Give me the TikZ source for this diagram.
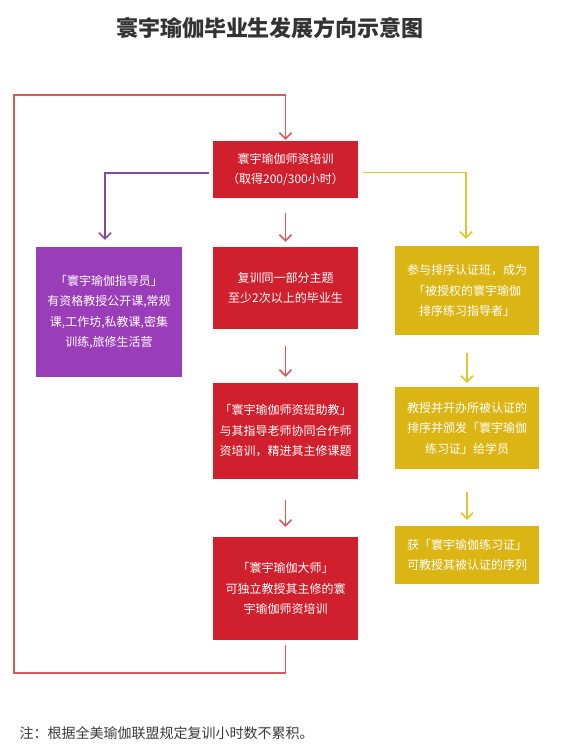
\documentclass[tikz,border=0pt]{standalone}
\usepackage{fontspec}
\setmainfont{Noto Sans CJK SC}
\usetikzlibrary{arrows.meta}
\definecolor{boxred}{HTML}{D0202E}
\definecolor{boxpurple}{HTML}{9A3DB8}
\definecolor{boxyellow}{HTML}{DBB513}
\definecolor{linered}{HTML}{D8585C}
\definecolor{linepurple}{HTML}{7D4CA3}
\definecolor{lineyellow}{HTML}{DCC72E}
\definecolor{titlegray}{HTML}{333333}
\definecolor{notegray}{HTML}{3A3A3A}
\begin{document}
\begin{tikzpicture}[x=1pt,y=-1pt,
  box/.style={draw=none, minimum width=145pt, inner sep=0pt, align=center, text=white, font=\fontsize{12}{20.5}\selectfont},
  redbox/.style={box, fill=boxred},
  purplebox/.style={box, fill=boxpurple},
  yellowbox/.style={box, fill=boxyellow, minimum width=144pt},
  conn/.style={line width=1.5pt, -{Straight Barb[length=6pt,width=12pt,line width=1.5pt]}},
  redline/.style={conn, draw=linered},
  purpleline/.style={conn, draw=linepurple},
  yellowline/.style={conn, draw=lineyellow}]
\fill[white] (0,0) rectangle (580,756);
\useasboundingbox (0,0) rectangle (580,756);

\node[font=\fontsize{22}{22}\selectfont\bfseries, text=titlegray] (title) at (270,28) {寰宇瑜伽毕业生发展方向示意图};

\node[redbox, minimum height=57pt] (a) at (285.5,169.5) {寰宇瑜伽师资培训\\（取得200/300小时）};
\node[purplebox, minimum width=146pt, minimum height=130pt] (p) at (109,312) {「寰宇瑜伽指导员」\\有资格教授公开课,常规\\课,工作坊,私教课,密集\\训练,旅修生活营};
\node[redbox, minimum height=82pt] (b) at (285.5,288) {复训同一部分主题\\至少2次以上的毕业生};
\node[redbox, minimum height=96pt] (c) at (285.5,431) {「寰宇瑜伽师资班助教」\\与其指导老师协同合作师\\资培训，精进其主修课题};
\node[redbox, minimum height=103pt] (d) at (285.5,588.5) {「寰宇瑜伽大师」\\可独立教授其主修的寰\\宇瑜伽师资培训};
\node[yellowbox, minimum height=89pt] (y1) at (467,290.5) {参与排序认证班，成为\\「被授权的寰宇瑜伽\\排序练习指导者」};
\node[yellowbox, minimum height=82pt] (y2) at (467,428) {教授并开办所被认证的\\排序并颁发「寰宇瑜伽\\练习证」给学员};
\node[yellowbox, minimum height=58pt] (y3) at (467,555) {获「寰宇瑜伽练习证」\\可教授其被认证的序列};

\node[anchor=west, font=\fontsize{14}{14}\selectfont, text=notegray] (note) at (16,733) {注：根据全美瑜伽联盟规定复训小时数不累积。};

\coordinate (l1) at (285.5,673);
\coordinate (l2) at (14,673);
\coordinate (l3) at (14,95);
\coordinate (l4) at (285.5,95);

\draw[redline] ([yshift=-5pt]d.south) -- (l1) -- (l2) -- (l3) -- (l4) -- ([yshift=1pt]a.north);
\draw[redline] ([yshift=-15pt]a.south) -- ([yshift=5pt]b.north);
\draw[redline] ([yshift=-17pt]b.south) -- ([yshift=6pt]c.north);
\draw[redline] ([yshift=-21pt]c.south) -- ([yshift=10pt]d.north);
\draw[purpleline] ([xshift=-4pt,yshift=-3.5pt]a.west) -| ([xshift=-4pt,yshift=7pt]p.north);
\draw[yellowline] ([xshift=5pt,yshift=-3pt]a.east) -| ([xshift=-1pt,yshift=7pt]y1.north);
\draw[yellowline] ([yshift=-18pt]y1.south) -- ([yshift=4pt]y2.north);
\draw[yellowline] ([yshift=-23pt]y2.south) -- ([yshift=6pt]y3.north);
\end{tikzpicture}
\end{document}
